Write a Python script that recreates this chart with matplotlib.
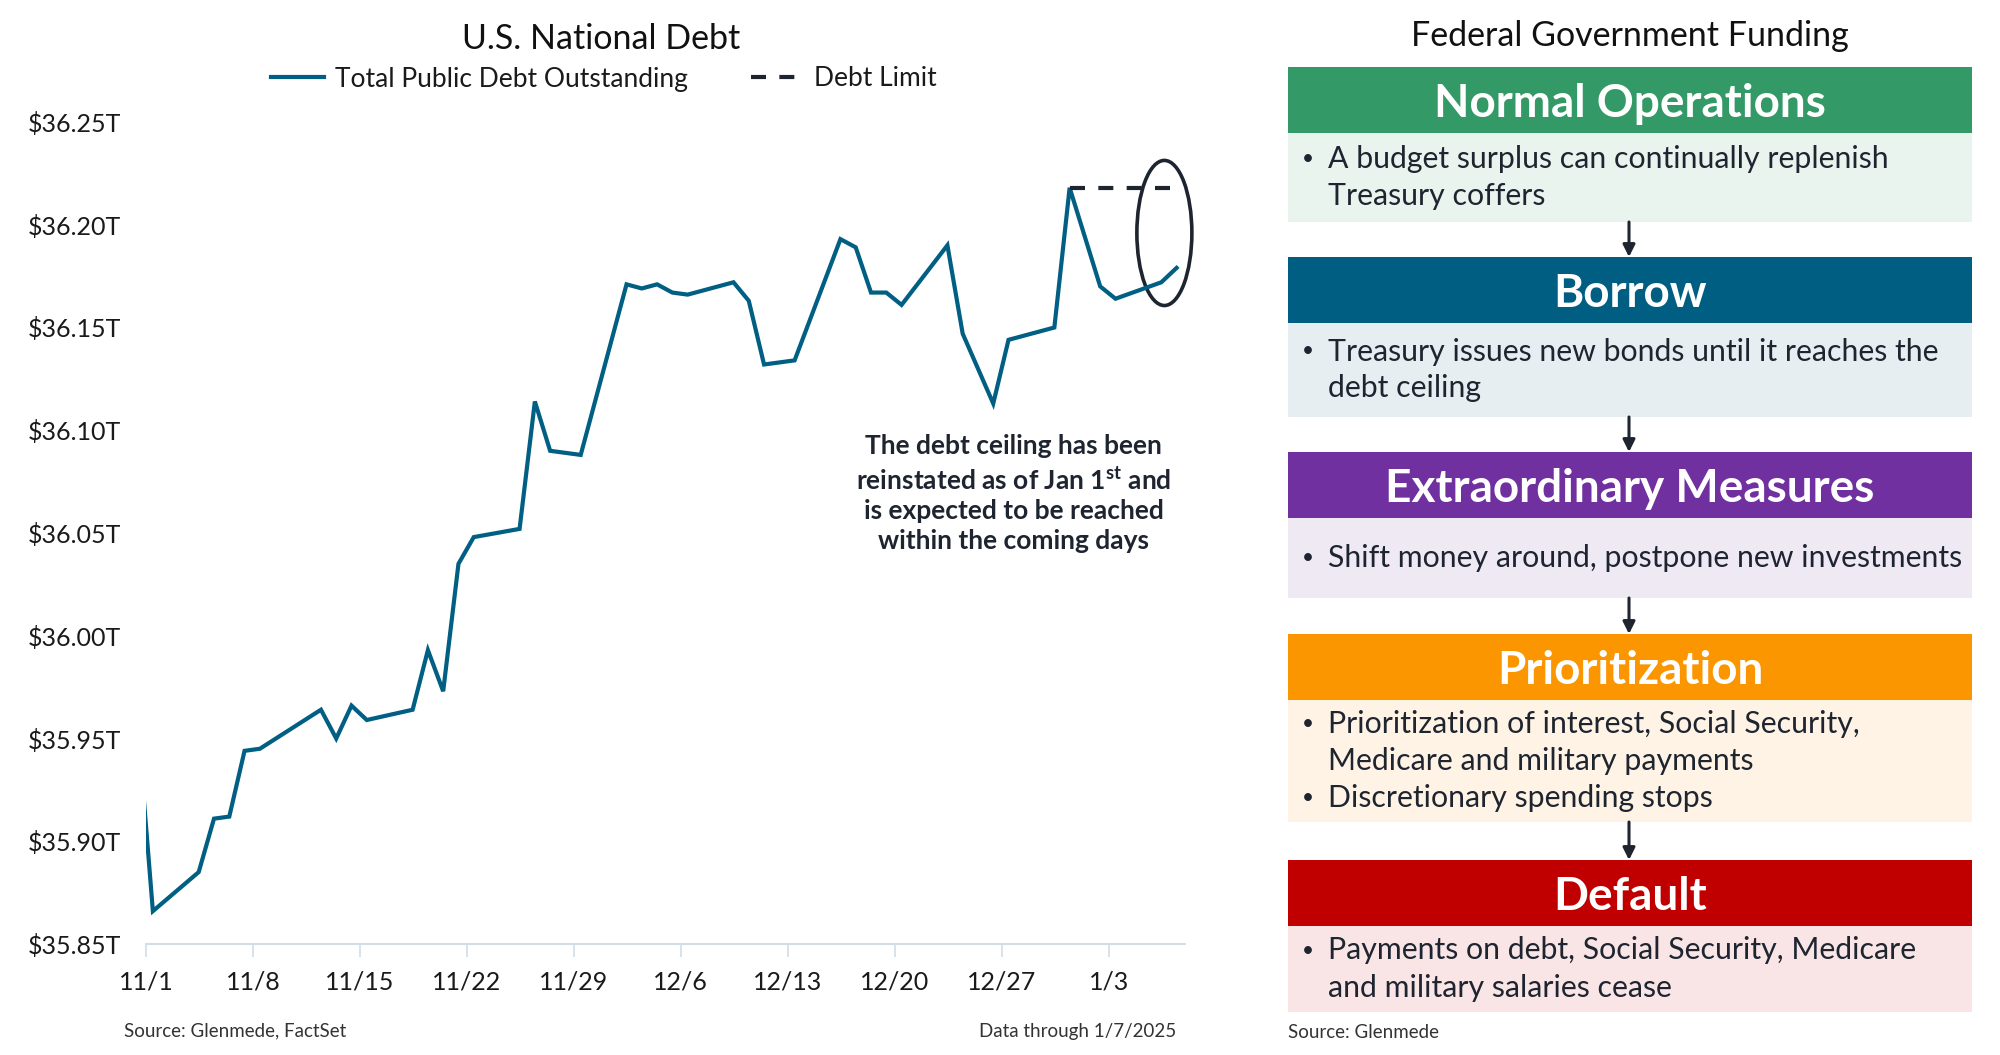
# U.S. National Debt vs Debt Limit + federal funding flow

import numpy as np
import matplotlib
matplotlib.use('Agg')
import matplotlib.pyplot as plt
import matplotlib.dates as mdates
from matplotlib.patches import Ellipse, Rectangle
import pandas as pd

plt.rcParams['font.family'] = ['Lato', 'DejaVu Sans']
plt.rcParams['mathtext.fontset'] = 'custom'
plt.rcParams['mathtext.rm'] = 'Lato'
plt.rcParams['mathtext.bf'] = 'Lato:bold'

# --- chart data (trillions of $) ---
dates = ['2024-10-31', '2024-11-01', '2024-11-04', '2024-11-05', '2024-11-06', '2024-11-07',
         '2024-11-08', '2024-11-12', '2024-11-13', '2024-11-14', '2024-11-15', '2024-11-18',
         '2024-11-19', '2024-11-20', '2024-11-21', '2024-11-22', '2024-11-25', '2024-11-26',
         '2024-11-27', '2024-11-29', '2024-12-02', '2024-12-03', '2024-12-04', '2024-12-05',
         '2024-12-06', '2024-12-09', '2024-12-10', '2024-12-11', '2024-12-12', '2024-12-13',
         '2024-12-16', '2024-12-17', '2024-12-18', '2024-12-19', '2024-12-20', '2024-12-23',
         '2024-12-24', '2024-12-26', '2024-12-27', '2024-12-30', '2024-12-31', '2025-01-02',
         '2025-01-03', '2025-01-06', '2025-01-07']
debt = [35.958, 35.866, 35.885, 35.911, 35.912, 35.944,
        35.945, 35.964, 35.950, 35.966, 35.959, 35.964,
        35.993, 35.973, 36.035, 36.048, 36.052, 36.114,
        36.090, 36.088, 36.171, 36.169, 36.171, 36.167,
        36.166, 36.172, 36.163, 36.132, 36.133, 36.134,
        36.193, 36.189, 36.167, 36.167, 36.161, 36.190,
        36.147, 36.113, 36.144, 36.150, 36.218, 36.170,
        36.164, 36.172, 36.179]
limit_dates = ['2024-12-31', '2025-01-07']
limit_vals = [36.218, 36.218]

tick_dates = ['2024-11-01', '2024-11-08', '2024-11-15', '2024-11-22', '2024-11-29',
              '2024-12-06', '2024-12-13', '2024-12-20', '2024-12-27', '2025-01-03']
tick_labels = ['11/1', '11/8', '11/15', '11/22', '11/29', '12/6', '12/13', '12/20', '12/27', '1/3']
y_ticks = [35.85, 35.90, 35.95, 36.00, 36.05, 36.10, 36.15, 36.20, 36.25]

# --- flow chart data ---
stages = ['Normal Operations', 'Borrow', 'Extraordinary Measures', 'Prioritization', 'Default']
head_colors = ['#339966', '#005e82', '#7030a0', '#fb9500', '#c00000']
body_colors = ['#eaf4ee', '#e6eef1', '#efe9f4', '#fff3e5', '#f9e5e5']
bullets = [
    [['A budget surplus can continually replenish', 'Treasury coffers']],
    [['Treasury issues new bonds until it reaches the', 'debt ceiling']],
    [['Shift money around, postpone new investments']],
    [['Prioritization of interest, Social Security,', 'Medicare and military payments'],
     ['Discretionary spending stops']],
    [['Payments on debt, Social Security, Medicare', 'and military salaries cease']],
]

line_col = '#005f83'
dark = '#1e2530'

fig = plt.figure(figsize=(20, 10.55), dpi=100)

# ---------------- left chart ----------------
ax = fig.add_axes([146 / 2000, 1 - 944 / 1055, 1039 / 2000, 822 / 1055])
x = mdates.date2num(pd.to_datetime(dates)) + 0.45
ax.plot(x, debt, color=line_col, lw=3, solid_joinstyle='miter', label='Total Public Debt Outstanding')
xl = mdates.date2num(pd.to_datetime(limit_dates)) + 0.45
ax.plot(xl, limit_vals, color=dark, lw=3, ls=(0, (3.6, 3.2)), dash_capstyle='butt', label='Debt Limit')

x0 = mdates.date2num(pd.Timestamp('2024-11-01'))
ax.set_xlim(x0, mdates.date2num(pd.Timestamp('2025-01-08')))
ax.set_ylim(35.85, 36.25)

ax.set_xticks(mdates.date2num(pd.to_datetime(tick_dates)))
ax.set_xticklabels(tick_labels)
ax.set_yticks(y_ticks)
ax.set_yticklabels(['${:.2f}T'.format(v) for v in y_ticks])
ax.tick_params(axis='x', length=9, width=1.2, color='#d3dde5', labelsize=18, pad=10, labelcolor='#1a1a1a')
ax.tick_params(axis='y', length=0, labelsize=18, pad=18, labelcolor='#1a1a1a')
for s in ['top', 'right', 'left']:
    ax.spines[s].set_visible(False)
ax.spines['bottom'].set_color('#d3dde5')
ax.spines['bottom'].set_linewidth(1.5)

# ellipse highlighting the last days
last = mdates.date2num(pd.Timestamp('2025-01-06'))
ax.add_patch(Ellipse((last + 0.65, 36.196), 3.6, 0.0706, fill=False, ec=dark, lw=2.6, clip_on=False))

ax.text(x0 + 56.8, 36.069,
        'The debt ceiling has been\n'
        r'reinstated as of Jan 1$^{\mathbf{st}}$ and' + '\n'
        'is expected to be reached\nwithin the coming days',
        ha='center', va='center', fontsize=19, fontweight='bold', color=dark, linespacing=1.3)

fig.text(601 / 2000, 1 - 39 / 1055, 'U.S. National Debt', ha='center', va='center', fontsize=24.5, color='#111')
fig.legend(loc='center', bbox_to_anchor=(604 / 2000, 1 - 79 / 1055), ncol=2, frameon=False,
           fontsize=19, handlelength=2.0, handletextpad=0.4, columnspacing=2.4, labelcolor='#1a1a1a')
fig.text(124 / 2000, 1 - 1031 / 1055, 'Source: Glenmede, FactSet', ha='left', va='center', fontsize=13.5, color='#333')
fig.text(1176 / 2000, 1 - 1031 / 1055, 'Data through 1/7/2025', ha='right', va='center', fontsize=13.5, color='#333')

# ---------------- right flow chart (pixel coords) ----------------
ov = fig.add_axes([0, 0, 1, 1], zorder=-1)
ov.set_xlim(0, 2000)
ov.set_ylim(1055, 0)
ov.axis('off')

bx0, bx1 = 1288, 1972
cx = (bx0 + bx1) / 2
box_top = [67, 257, 452, 634, 860]
head_h = 66
body_h = [89, 94, 80, 122, 86]
lh = 37

ov.text(1630, 36, 'Federal Government Funding', ha='center', va='center', fontsize=24.5, color='#111')

for i, name in enumerate(stages):
    t = box_top[i]
    ov.add_patch(Rectangle((bx0, t), bx1 - bx0, head_h, color=head_colors[i], lw=0))
    ov.add_patch(Rectangle((bx0, t + head_h), bx1 - bx0, body_h[i], color=body_colors[i], lw=0))
    ov.text(cx, t + head_h / 2 + 4, name, ha='center', va='center', fontsize=33,
            fontweight='bold', color='white')
    n_lines = sum(len(b) for b in bullets[i])
    y = t + head_h + body_h[i] / 2 - (n_lines - 1) * lh / 2
    for b in bullets[i]:
        ov.text(1308, y, '•', ha='center', va='center', fontsize=15, color=dark)
        for ln in b:
            ov.text(1328, y, ln, ha='left', va='center', fontsize=21.8, color=dark)
            y += lh
    if i < len(stages) - 1:
        ov.annotate('', xy=(1629, box_top[i + 1]), xytext=(1629, t + head_h + body_h[i]),
                    arrowprops=dict(arrowstyle='-|>', color=dark, lw=2.2, mutation_scale=18,
                                    shrinkA=0, shrinkB=0))

ov.text(1288, 1033, 'Source: Glenmede', ha='left', va='center', fontsize=13.5, color='#333')

fig.savefig('out.png', dpi=100)
